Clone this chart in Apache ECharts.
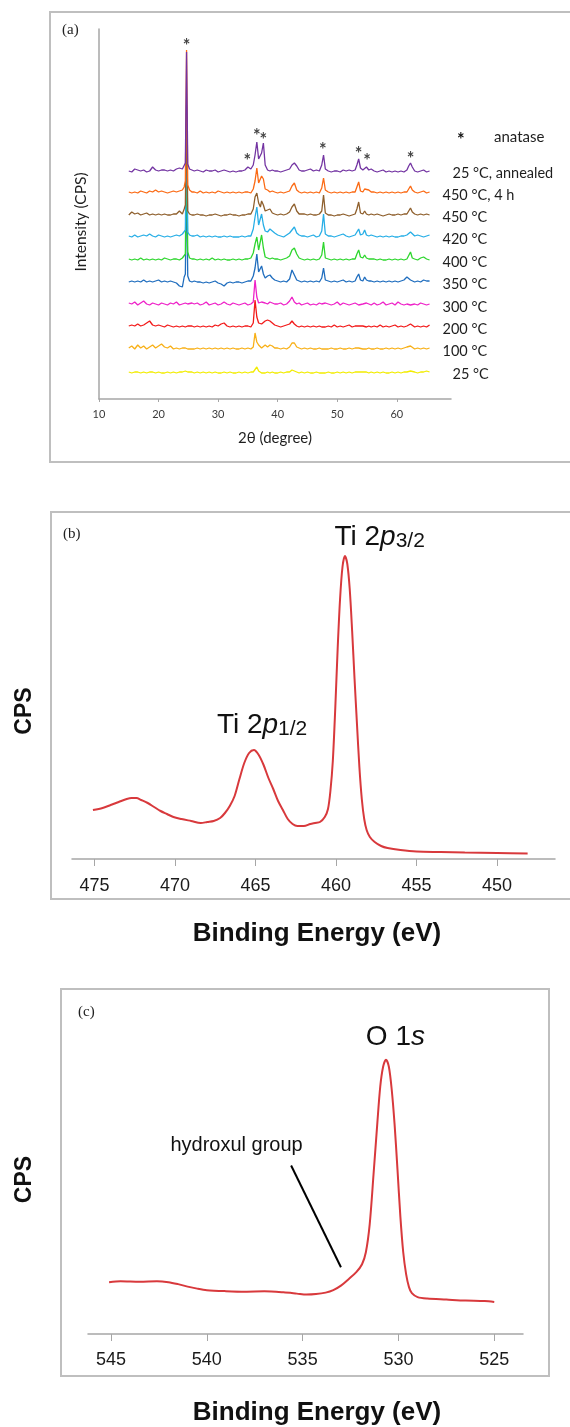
<!DOCTYPE html>
<html>
<head>
<meta charset="utf-8">
<title>XRD and XPS of TiO2 films</title>
<script src="https://cdn.jsdelivr.net/npm/echarts@6.0.0/dist/echarts.min.js"></script>
<style>
  html, body { margin: 0; padding: 0; background: #ffffff; }
  #chart { width: 570px; height: 1427px; }
</style>
</head>
<body>
<div id="chart"></div>
<script>
// ---------- (a) XRD patterns, intensity above each trace's own baseline ----------
const twoTheta = [
  15, 15.5, 16, 16.5, 17, 17.5, 18, 18.5, 19, 19.5, 20, 20.5, 21, 21.5, 22, 22.5, 23, 23.5, 24,
  24.3, 24.5, 24.7, 24.9, 25.2, 25.6,
  26, 26.5, 27, 27.5, 28, 28.5, 29, 29.5, 30, 30.5, 31, 31.5, 32, 32.5, 33, 33.5, 34, 34.5, 35, 35.5,
  35.9, 36.2, 36.5, 36.8, 37.1, 37.3, 37.6, 37.9, 38.3, 38.7, 39.1, 39.5,
  40, 40.5, 41, 41.5, 42, 42.4, 42.8, 43.2, 43.6, 44, 44.5, 45, 45.5, 46, 46.5, 47,
  47.4, 47.7, 48, 48.5, 49, 49.5, 50, 50.5, 51, 51.5, 52, 52.5, 53,
  53.3, 53.6, 53.9, 54.3, 54.6, 54.9, 55.3, 55.7,
  56.2, 56.7, 57.2, 57.7, 58.2, 58.7, 59.2, 59.7, 60.2, 60.7, 61.2, 61.7,
  62, 62.3, 62.6, 63, 63.5, 64, 64.5, 65, 65.5
];

const xrd25 = [
  2, 1, 2, 2, 1, 2, 1, 2, 2, 1, 2, 1, 1, 2, 1, 2, 1, 2, 2,
  2, 3, 4, 2, 1, 2,
  1, 2, 1, 2, 1, 2, 1, 2, 1, 1, 2, 1, 2, 1, 1, 2, 1, 2, 1, 2,
  2, 4, 7, 3, 2, 1, 2, 1, 2, 1, 2, 1,
  1, 2, 1, 2, 2, 4, 3, 2, 1, 2, 1, 2, 1, 1, 2, 1,
  1, 2, 1, 2, 1, 1, 2, 1, 2, 1, 2, 1, 2,
  1, 2, 1, 2, 1, 2, 1, 2,
  1, 2, 1, 2, 1, 1, 2, 1, 2, 1, 2, 2,
  2, 3, 2, 2, 1, 2, 2, 3, 2
];
const xrd100 = [
  3, 5, 2, 6, 3, 5, 2, 4, 6, 3, 5, 7, 4, 3, 5, 2, 3, 2, 3,
  2, 3, 4, 2, 3, 2,
  2, 3, 2, 3, 2, 3, 2, 3, 2, 3, 2, 3, 2, 3, 2, 2, 3, 2, 3, 2,
  4, 18, 9, 6, 4, 3, 5, 6, 4, 6, 5, 3,
  3, 2, 3, 2, 4, 8, 8, 4, 3, 2, 3, 2, 3, 2, 2, 3,
  2, 3, 2, 2, 3, 2, 2, 3, 2, 2, 3, 2, 3,
  2, 3, 2, 2, 3, 2, 3, 2,
  2, 3, 2, 2, 3, 2, 3, 2, 3, 2, 3, 4,
  4, 5, 3, 2, 3, 2, 3, 2, 3
];
const xrd200 = [
  3, 4, 3, 5, 3, 4, 6, 8, 4, 3, 4, 3, 2, 4, 3, 2, 3, 2, 3,
  3, 2, 4, 3, 2, 3,
  2, 3, 2, 3, 2, 3, 2, 4, 3, 5, 6, 3, 2, 3, 2, 3, 2, 3, 3, 2,
  6, 29, 12, 6, 4, 5, 6, 8, 9, 8, 6, 4,
  3, 2, 3, 4, 5, 8, 5, 3, 2, 3, 2, 3, 2, 3, 2, 3,
  2, 3, 2, 3, 2, 4, 2, 3, 2, 3, 4, 2, 3,
  2, 3, 2, 3, 4, 2, 3, 2,
  3, 2, 4, 2, 3, 2, 3, 4, 2, 3, 2, 3,
  4, 5, 3, 2, 3, 2, 3, 2, 4
];
const xrd300 = [
  4, 3, 5, 2, 4, 6, 3, 2, 4, 3, 2, 4, 3, 2, 4, 3, 5, 2, 3,
  3, 4, 5, 3, 2, 4,
  3, 4, 2, 3, 5, 2, 3, 4, 2, 3, 5, 3, 2, 4, 3, 2, 3, 4, 2, 3,
  5, 27, 10, 4, 3, 5, 3, 4, 3, 5, 4, 3,
  3, 4, 2, 3, 6, 10, 5, 3, 4, 2, 3, 4, 2, 3, 2, 4,
  3, 2, 4, 3, 2, 3, 5, 2, 4, 3, 2, 3, 4,
  3, 2, 4, 3, 2, 4, 3, 2,
  4, 2, 3, 5, 2, 3, 4, 2, 5, 3, 2, 3,
  3, 2, 4, 3, 2, 4, 3, 2, 3
];
const xrd350 = [
  2, 3, 2, 3, 2, 4, 2, 3, 2, 3, 4, 2, 3, 2, 3, 2, 1, -2, -3,
  7, 10, 110, 8, 3, 2,
  3, 2, 2, 1, 2, 1, 2, 3, 1, 0, -2, 1, 2, 1, 2, 2, 1, 2, 3, 3,
  8, 16, 30, 12, 10, 18, 10, 6, 8, 9, 6, 4,
  3, 2, 3, 2, 5, 14, 9, 4, 3, 2, 3, 2, 3, 2, 3, 2,
  6, 16, 4, 3, 2, 3, 2, 3, 4, 2, 3, 2, 3,
  7, 10, 4, 3, 7, 4, 3, 3,
  2, 3, 2, 3, 2, 3, 2, 3, 2, 3, 4, 7,
  6, 4, 3, 2, 3, 2, 4, 3, 3
];
const xrd400 = [
  3, 2, 3, 2, 4, 2, 3, 2, 3, 2, 3, 2, 4, 3, 2, 3, 3, 2, 4,
  4, 8, 132, 10, 4, 3,
  3, 2, 3, 2, 3, 2, 4, 2, 3, 2, 3, 2, 2, 3, 2, 3, 2, 3, 3, 4,
  9, 18, 25, 12, 13, 27, 14, 5, 4, 3, 4, 3,
  3, 2, 3, 4, 6, 12, 14, 8, 4, 3, 2, 3, 2, 3, 2, 3,
  7, 20, 4, 3, 2, 3, 2, 3, 2, 3, 2, 3, 3,
  8, 12, 5, 4, 7, 4, 3, 3,
  3, 2, 3, 2, 2, 3, 2, 3, 2, 3, 2, 3,
  5, 10, 4, 3, 2, 4, 5, 3, 2
];
const xrd420 = [
  3, 2, 4, 2, 3, 4, 3, 5, 3, 2, 4, 3, 2, 3, 2, 3, 4, 3, 5,
  4, 9, 121, 7, 4, 3,
  3, 4, 2, 3, 2, 3, 2, 3, 2, 2, 3, 2, 3, 2, 2, 2, 3, 2, 3, 3,
  10, 22, 32, 14, 12, 25, 14, 8, 7, 10, 8, 6,
  4, 3, 2, 4, 6, 9, 12, 6, 4, 3, 3, 2, 3, 4, 2, 3,
  8, 25, 5, 3, 3, 2, 3, 4, 5, 3, 2, 3, 4,
  7, 10, 4, 5, 9, 4, 3, 4,
  3, 2, 3, 2, 3, 2, 3, 2, 2, 3, 3, 4,
  6, 7, 5, 3, 4, 3, 2, 3, 4
];
const xrd450 = [
  2, 5, 3, 4, 2, 3, 4, 2, 3, 2, 3, 2, 3, 2, 2, 3, 3, 6, 3,
  8, 12, 112, 6, 3, 2,
  2, 3, 2, 2, 1, 2, 2, 3, 2, 1, 2, 2, 3, 2, 2, 1, 2, 2, 3, 3,
  8, 20, 24, 14, 10, 16, 12, 6, 7, 8, 4, 3,
  2, 3, 2, 3, 5, 10, 13, 6, 3, 3, 3, 2, 3, 2, 2, 3,
  6, 22, 4, 2, 2, 1, 2, 2, 3, 2, 1, 2, 3,
  8, 15, 4, 3, 6, 3, 2, 3,
  2, 3, 2, 1, 2, 3, 2, 2, 3, 2, 3, 3,
  6, 9, 5, 3, 2, 3, 2, 3, 2
];
const xrd450h4 = [
  3, 2, 3, 2, 4, 3, 2, 4, 3, 5, 3, 4, 3, 2, 3, 4, 3, 4, 5,
  8, 14, 145, 10, 5, 3,
  3, 2, 4, 2, 3, 2, 3, 2, 4, 3, 2, 3, 2, 3, 2, 3, 2, 3, 3, 2,
  6, 14, 27, 12, 10, 19, 16, 6, 5, 3, 4, 3,
  2, 3, 2, 3, 4, 9, 12, 5, 3, 2, 3, 2, 3, 2, 3, 2,
  7, 17, 5, 3, 2, 3, 2, 3, 2, 3, 2, 3, 3,
  8, 13, 4, 3, 6, 4, 5, 3,
  3, 2, 3, 2, 3, 2, 3, 2, 3, 2, 3, 3,
  6, 9, 5, 3, 2, 3, 4, 2, 3
];
const xrdAnnealed = [
  2, 1, 4, 3, 2, 3, 1, 2, 6, 3, 2, 3, 3, 2, 3, 2, 4, 5, 4,
  6, 10, 121, 9, 4, 3,
  2, 3, 2, 1, 3, 2, 2, 3, 1, 2, 3, 2, 1, 2, 1, 2, 2, 3, 6, 4,
  8, 18, 31, 14, 12, 20, 30, 8, 3, 2, 3, 2,
  2, 1, 2, 3, 4, 8, 10, 7, 3, 2, 2, 3, 4, 2, 3, 2,
  8, 18, 4, 2, 1, 2, 2, 1, 3, 2, 3, 2, 3,
  8, 14, 5, 3, 5, 6, 3, 4,
  2, 1, 2, 3, 1, 2, 1, 2, 1, 2, 1, 3,
  7, 10, 6, 2, 1, 2, 3, 1, 2
];

const xrdLabels = ['25 °C', '100 °C', '200 °C', '300 °C', '350 °C', '400 °C', '420 °C', '450 °C', '450 °C, 4 h', '25 °C, annealed'];
const xrdOffsets = [25, 48, 70, 92, 115, 137, 160, 182, 204, 226];
const xrdTicks = [10, 20, 30, 40, 50, 60];

// anatase reflections marked with * (2θ, height on the intensity axis)
const anataseTheta = [24.7, 34.9, 36.5, 37.6, 47.6, 53.6, 55.0, 62.3];
const anataseLevel = [353, 238, 263, 259, 249, 245, 238, 240];

// ---------- (b) Ti 2p XPS ----------
const tiEnergy = [
  475.1, 474.5, 474.0, 473.5, 473.0, 472.7, 472.4, 472.1, 471.7, 471.3,
  470.9, 470.5, 470.1, 469.6, 469.0, 468.4, 468.0, 467.6, 467.2, 466.9,
  466.6, 466.3, 466.0, 465.7, 465.4, 465.1, 464.8, 464.5, 464.2, 463.9,
  463.6, 463.3, 463.0, 462.7, 462.4, 462.0, 461.6, 461.3, 461.0, 460.7,
  460.5, 460.35, 460.2, 460.05, 459.9, 459.75, 459.6, 459.45, 459.3, 459.15,
  459.0, 458.85, 458.7, 458.55, 458.4, 458.25, 458.1, 457.9, 457.6, 457.2,
  456.8, 456.0, 455.0, 453.5, 452.0, 450.0, 448.1
];
const tiCounts = [
  49, 51, 54, 57, 60, 61, 61, 59, 56, 52,
  48, 45, 42, 40, 38, 36, 37, 38, 41, 46,
  53, 63, 80, 96, 106, 109, 104, 94, 81, 70,
  58, 49, 40, 35, 33, 33, 35, 36, 37, 42,
  50, 68, 98, 150, 210, 260, 292, 303, 295, 270,
  228, 180, 135, 92, 60, 40, 29, 22, 17, 13,
  11, 9, 7.5, 7, 6.5, 6, 5.5
];
const tiTicks = [475, 470, 465, 460, 455, 450];

// ---------- (c) O 1s XPS ----------
const oEnergy = [
  545.1, 544.5, 543.5, 542.6, 542.0, 541.5, 541.0, 540.5, 540.0, 539.0,
  538.0, 537.0, 536.0, 535.3, 534.8, 534.3, 533.8, 533.4, 533.0, 532.6,
  532.2, 531.9, 531.7, 531.5, 531.3, 531.1, 530.95, 530.8, 530.65, 530.5,
  530.35, 530.2, 530.05, 529.9, 529.75, 529.6, 529.45, 529.3, 529.0, 528.5,
  527.5, 526.5, 525.5, 525.0
];
const oCounts = [
  52, 53, 52.5, 53, 52, 50, 47.5, 45.5, 44, 43,
  42.5, 42.8, 41.8, 40.5, 39.5, 40, 41.5, 44, 48.5, 55,
  62, 70, 82, 110, 160, 212, 248, 268, 275, 268,
  245, 210, 165, 118, 82, 60, 47, 41, 37, 35.5,
  34.5, 33.5, 33, 32
];
const oTicks = [545, 540, 535, 530, 525];

// annotation anchors (energy, counts)
const tiLabel12 = [467.4, 134];
const tiLabel32 = [460.1, 322];
const oLabel = [531.7, 298];
const hydroxylLabel = [541.9, 189];
const hydroxylPointer = [[535.6, 169], [533.0, 67]];

// ---------- styling ----------
const xrdColors = ['#F2EC00', '#F8B017', '#F21A1A', '#EE22C8', '#1F6DBE', '#2ED62E', '#27AEE6', '#8E5F2C', '#FB6A14', '#7334A2'];
const labelGap = [20, 10, 10, 10, 10, 10, 10, 10, 10, 20];
const xpsRed = '#D8393C';
const frameColor = '#BFBFBF';
const axisGray = '#A6A6A6';

const chart = echarts.init(document.getElementById('chart'));

const xrdTraces = [xrd25, xrd100, xrd200, xrd300, xrd350, xrd400, xrd420, xrd450, xrd450h4, xrdAnnealed];

const xrdSeries = xrdTraces.map((trace, k) => ({
  name: xrdLabels[k],
  type: 'line',
  xAxisIndex: 0,
  yAxisIndex: 0,
  data: twoTheta.map((t, i) => [t, xrdOffsets[k] + trace[i]]),
  showSymbol: false,
  symbol: 'none',
  lineStyle: { color: xrdColors[k], width: 1.3 },
  itemStyle: { color: xrdColors[k] },
  silent: true,
  markPoint: {
    symbol: 'circle',
    symbolSize: 0,
    silent: true,
    label: {
      show: true,
      position: 'right',
      distance: labelGap[k],
      formatter: xrdLabels[k],
      fontFamily: 'Lato',
      fontSize: 14.5,
      color: '#1e1e1e'
    },
    data: [{ coord: [66, xrdOffsets[k]] }]
  }
}));

const option = {
  animation: false,
  grid: [
    { left: 99, top: 29, width: 352, height: 370 },
    { left: 72, top: 520, width: 483, height: 339 },
    { left: 88, top: 1000, width: 435, height: 335 }
  ],
  xAxis: [
    {
      gridIndex: 0, type: 'value', min: 10, max: 69.1,
      axisLine: { onZero: false, lineStyle: { color: axisGray, width: 1.5 } },
      axisTick: { show: true, length: 3, customValues: xrdTicks, lineStyle: { color: axisGray } },
      axisLabel: { customValues: xrdTicks, margin: 10, fontFamily: 'Lato', fontSize: 11, color: '#3a3a3a' },
      splitLine: { show: false },
      name: '2θ (degree)', nameLocation: 'middle', nameGap: 32,
      nameTextStyle: { fontFamily: 'Lato', fontSize: 15, color: '#1e1e1e' }
    },
    {
      gridIndex: 1, type: 'value', min: 446.4, max: 476.4, inverse: true,
      axisLine: { onZero: false, lineStyle: { color: axisGray, width: 1.5 } },
      axisTick: { show: true, length: 7, customValues: tiTicks, lineStyle: { color: axisGray } },
      axisLabel: { customValues: tiTicks, margin: 18, fontFamily: 'Liberation Sans', fontSize: 18, color: '#1a1a1a' },
      splitLine: { show: false },
      name: 'Binding Energy (eV)', nameLocation: 'middle', nameGap: 62,
      nameTextStyle: { fontFamily: 'Liberation Sans', fontWeight: 'bold', fontSize: 26, color: '#111', padding: [0, 0, 0, 7] }
    },
    {
      gridIndex: 2, type: 'value', min: 523.5, max: 546.2, inverse: true,
      axisLine: { onZero: false, lineStyle: { color: axisGray, width: 1.5 } },
      axisTick: { show: true, length: 7, customValues: oTicks, lineStyle: { color: axisGray } },
      axisLabel: { customValues: oTicks, margin: 17, fontFamily: 'Liberation Sans', fontSize: 18, color: '#1a1a1a' },
      splitLine: { show: false },
      name: 'Binding Energy (eV)', nameLocation: 'middle', nameGap: 66,
      nameTextStyle: { fontFamily: 'Liberation Sans', fontWeight: 'bold', fontSize: 26, color: '#111', padding: [0, 0, 0, 23] }
    }
  ],
  yAxis: [
    {
      gridIndex: 0, type: 'value', min: 0, max: 370,
      axisLine: { show: true, onZero: false, lineStyle: { color: axisGray, width: 1.5 } },
      axisTick: { show: false }, axisLabel: { show: false }, splitLine: { show: false },
      name: 'Intensity (CPS)', nameLocation: 'middle', nameRotate: 90, nameGap: 10,
      nameTextStyle: { fontFamily: 'Lato', fontSize: 15.5, color: '#1e1e1e', padding: [0, 16, 0, 0] }
    },
    {
      gridIndex: 1, type: 'value', min: 0, max: 339,
      axisLine: { show: false }, axisTick: { show: false }, axisLabel: { show: false }, splitLine: { show: false },
      name: 'CPS', nameLocation: 'middle', nameRotate: 90, nameGap: 36,
      nameTextStyle: { fontFamily: 'Liberation Sans', fontWeight: 'bold', fontSize: 23, color: '#111', padding: [0, 43, 0, 0] }
    },
    {
      gridIndex: 2, type: 'value', min: 0, max: 335,
      axisLine: { show: false }, axisTick: { show: false }, axisLabel: { show: false }, splitLine: { show: false },
      name: 'CPS', nameLocation: 'middle', nameRotate: 90, nameGap: 52,
      nameTextStyle: { fontFamily: 'Liberation Sans', fontWeight: 'bold', fontSize: 23, color: '#111', padding: [0, 25, 0, 0] }
    }
  ],
  series: [
    ...xrdSeries,
    {
      name: 'anatase',
      type: 'scatter',
      xAxisIndex: 0,
      yAxisIndex: 0,
      data: anataseTheta.map((t, i) => [t, anataseLevel[i]]),
      symbolSize: 0,
      silent: true,
      z: 5,
      label: { show: true, position: 'inside', formatter: '*', fontFamily: 'Lato', fontWeight: 'bold', fontSize: 18, color: '#111' }
    },
    {
      name: 'Ti 2p',
      type: 'line',
      xAxisIndex: 1,
      yAxisIndex: 1,
      data: tiEnergy.map((e, i) => [e, tiCounts[i]]),
      showSymbol: false,
      smooth: 0.3,
      lineStyle: { color: xpsRed, width: 2 },
      itemStyle: { color: xpsRed },
      silent: true,
      markPoint: {
        symbol: 'circle',
        symbolSize: 0,
        silent: true,
        label: {
          show: true,
          position: 'right',
          distance: 0,
          color: '#111',
          fontFamily: 'Liberation Sans',
          rich: {
            a: { fontFamily: 'Liberation Sans', fontSize: 28, lineHeight: 30, color: '#111' },
            p: { fontFamily: 'Liberation Sans', fontSize: 28, lineHeight: 30, fontStyle: 'italic', color: '#111' },
            s: { fontFamily: 'Liberation Sans', fontSize: 21, lineHeight: 20, verticalAlign: 'bottom', color: '#111' }
          }
        },
        data: [
          { coord: tiLabel12, label: { formatter: '{a|Ti 2}{p|p}{s|1/2}' } },
          { coord: tiLabel32, label: { formatter: '{a|Ti 2}{p|p}{s|3/2}' } }
        ]
      }
    },
    {
      name: 'O 1s',
      type: 'line',
      xAxisIndex: 2,
      yAxisIndex: 2,
      data: oEnergy.map((e, i) => [e, oCounts[i]]),
      showSymbol: false,
      smooth: 0.3,
      lineStyle: { color: xpsRed, width: 2 },
      itemStyle: { color: xpsRed },
      silent: true,
      markPoint: {
        symbol: 'circle',
        symbolSize: 0,
        silent: true,
        label: {
          show: true,
          position: 'right',
          distance: 0,
          color: '#111',
          rich: {
            a: { fontFamily: 'Liberation Sans', fontSize: 28, color: '#111' },
            i: { fontFamily: 'Liberation Sans', fontSize: 28, fontStyle: 'italic', color: '#111' },
            h: { fontFamily: 'Liberation Sans', fontSize: 20, color: '#111' }
          }
        },
        data: [
          { coord: oLabel, label: { formatter: '{a|O 1}{i|s}' } },
          { coord: hydroxylLabel, label: { formatter: '{h|hydroxul group}' } }
        ]
      },
      markLine: {
        silent: true,
        symbol: ['none', 'none'],
        label: { show: false },
        lineStyle: { color: '#000', width: 2, type: 'solid' },
        data: [[{ coord: hydroxylPointer[0] }, { coord: hydroxylPointer[1] }]]
      }
    }
  ],
  graphic: [
    { type: 'rect', silent: true, shape: { x: 50, y: 12, width: 530, height: 450 },
      style: { fill: 'none', stroke: frameColor, lineWidth: 2 } },
    { type: 'rect', silent: true, shape: { x: 51, y: 512, width: 530, height: 387 },
      style: { fill: 'none', stroke: frameColor, lineWidth: 2 } },
    { type: 'rect', silent: true, shape: { x: 61, y: 989, width: 488, height: 387 },
      style: { fill: 'none', stroke: frameColor, lineWidth: 2 } },
    { type: 'text', left: 62, top: 23, silent: true,
      style: { text: '(a)', font: '15px "Liberation Serif"', fill: '#222' } },
    { type: 'text', left: 63, top: 527, silent: true,
      style: { text: '(b)', font: '15px "Liberation Serif"', fill: '#222' } },
    { type: 'text', left: 78, top: 1005, silent: true,
      style: { text: '(c)', font: '15px "Liberation Serif"', fill: '#222' } },
    { type: 'text', left: 457, top: 131, silent: true,
      style: { text: '*', font: 'bold 18px Lato', fill: '#111' } },
    { type: 'text', left: 494, top: 130, silent: true,
      style: { text: 'anatase', font: '15px Lato', fill: '#1e1e1e' } }
  ]
};

chart.setOption(option);
window.addEventListener('resize', function () {
  chart.resize();
});
</script>
</body>
</html>
